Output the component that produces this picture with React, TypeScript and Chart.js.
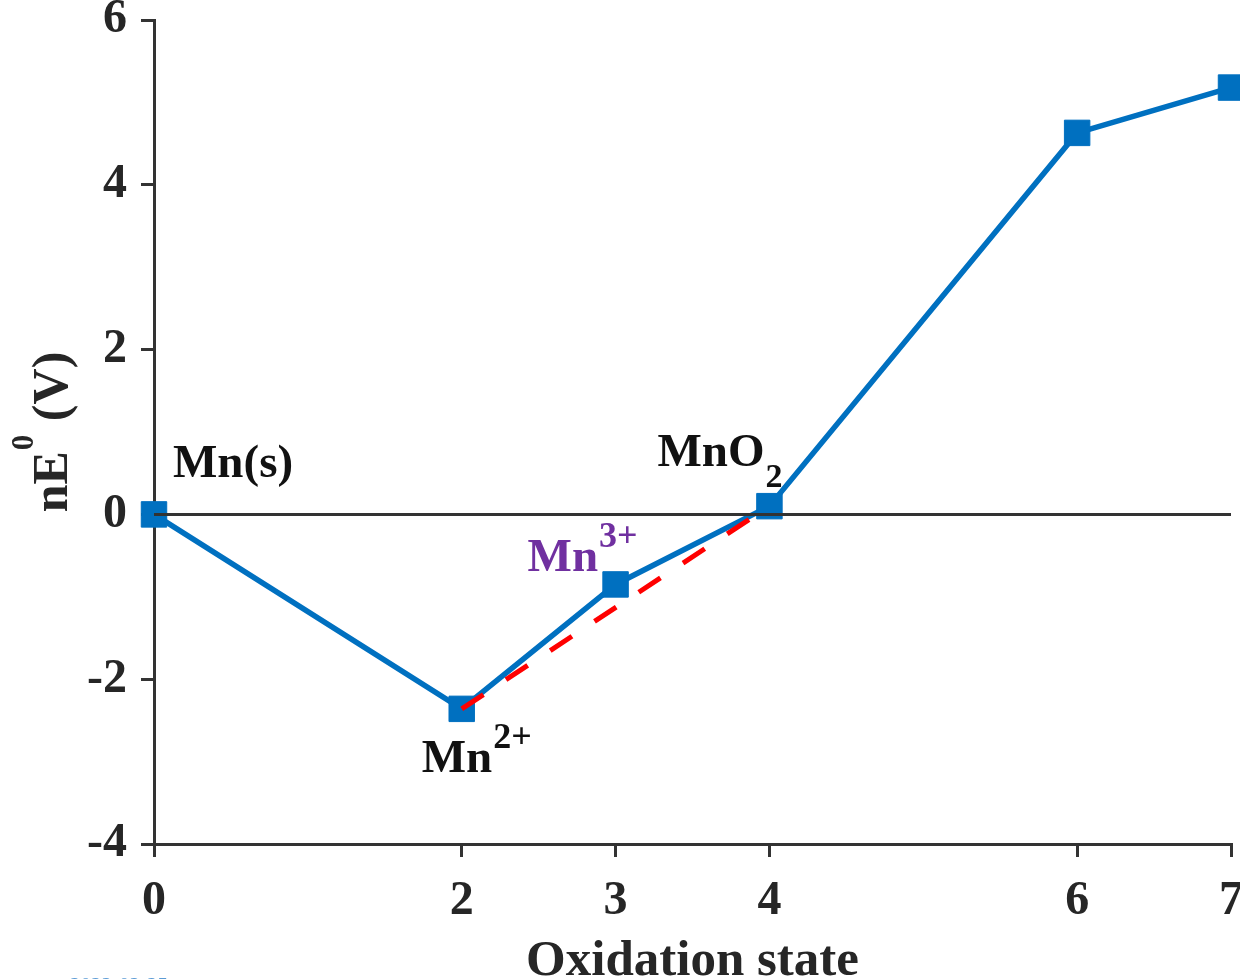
import React, { useEffect, useRef } from 'react';
import { Chart, registerables } from 'chart.js';

Chart.register(...registerables);

// Frost diagram for manganese (acid solution)
const oxidationStates = [0, 2, 3, 4, 6, 7];
const nE0Values = [0, -2.36, -0.85, 0.1, 4.63, 5.18];

// Mn2+ -> MnO2 reference line (comproportionation)
const refLineX = [2, 4];
const refLineY = [-2.36, 0.1];

const xTickValues = [0, 2, 3, 4, 6, 7];
const yTickValues = [-4, -2, 0, 2, 4, 6];

const xAxisTitle = 'Oxidation state';
const yAxisTitleMain = 'nE';
const yAxisTitleSup = '0';
const yAxisTitleTail = ' (V)';

const SERIF = '"Liberation Serif", "Times New Roman", serif';
const AXIS = '#333333';
const TEXT = '#262626';
const BLUE = '#0070c0';
const RED = '#ff0000';
const PURPLE = '#7030a0';

type Part = { text: string; size: number; dy: number };

function drawParts(ctx: CanvasRenderingContext2D, x: number, y: number, parts: Part[], color: string) {
  let cx = x;
  ctx.fillStyle = color;
  ctx.textAlign = 'left';
  ctx.textBaseline = 'alphabetic';
  for (const p of parts) {
    ctx.font = `bold ${p.size}px ${SERIF}`;
    ctx.fillText(p.text, cx, y + p.dy);
    cx += ctx.measureText(p.text).width + 1;
  }
}

const overlayPlugin = {
  id: 'frostOverlay',
  afterDatasetsDraw(chart: any) {
    const { ctx, chartArea, scales } = chart;
    const y0 = scales.y.getPixelForValue(0);
    ctx.save();
    ctx.strokeStyle = AXIS;
    ctx.lineWidth = 3;
    ctx.beginPath();
    ctx.moveTo(chartArea.left, y0);
    ctx.lineTo(chartArea.right, y0);
    ctx.stroke();
    ctx.restore();
  },
  afterDraw(chart: any) {
    const { ctx, chartArea, scales } = chart;
    const px = (i: number) => scales.x.getPixelForValue(oxidationStates[i]);
    const py = (i: number) => scales.y.getPixelForValue(nE0Values[i]);
    ctx.save();

    // species labels next to their points
    drawParts(ctx, px(0) + 19, py(0) - 37, [{ text: 'Mn(s)', size: 47, dy: 0 }], '#111');
    drawParts(ctx, px(1) - 40, py(1) + 63, [
      { text: 'Mn', size: 47, dy: 0 },
      { text: '2+', size: 36, dy: -24 },
    ], '#111');
    drawParts(ctx, px(2) - 88, py(2) - 13, [
      { text: 'Mn', size: 47, dy: 0 },
      { text: '3+', size: 36, dy: -24 },
    ], PURPLE);
    drawParts(ctx, px(3) - 112, py(3) - 40, [
      { text: 'MnO', size: 47, dy: 0 },
      { text: '2', size: 34, dy: 21 },
    ], '#111');

    // x axis title
    ctx.font = `bold 51px ${SERIF}`;
    ctx.fillStyle = TEXT;
    ctx.textAlign = 'center';
    ctx.textBaseline = 'alphabetic';
    ctx.fillText(xAxisTitle, (chartArea.left + chartArea.right) / 2, 975);

    // y axis title, rotated, with superscript
    ctx.font = `bold 50px ${SERIF}`;
    const wMain = ctx.measureText(yAxisTitleMain).width;
    const wTail = ctx.measureText(yAxisTitleTail).width;
    ctx.font = `bold 31px ${SERIF}`;
    const wSup = ctx.measureText(yAxisTitleSup).width;
    const total = wMain + wSup + wTail + 2;
    const cy = (chartArea.top + chartArea.bottom) / 2;
    ctx.translate(67, cy + total / 2);
    ctx.rotate(-Math.PI / 2);
    drawParts(ctx, 0, 0, [
      { text: yAxisTitleMain, size: 50, dy: 0 },
      { text: yAxisTitleSup, size: 31, dy: -34 },
      { text: yAxisTitleTail, size: 50, dy: 0 },
    ], TEXT);
    ctx.setTransform(1, 0, 0, 1, 0, 0);

    // date stamp at the lower edge
    ctx.font = `21px ${SERIF}`;
    ctx.fillStyle = '#5b9bd5';
    ctx.textAlign = 'left';
    ctx.fillText('2022-02-25', 70, 992);
    ctx.restore();
  },
};

export default function App() {
  const canvasRef = useRef<HTMLCanvasElement | null>(null);

  useEffect(() => {
    if (!canvasRef.current) return;
    const tickFont = { family: SERIF, size: 48, weight: 'bold' as const };

    const chart = new Chart(canvasRef.current, {
      type: 'line',
      data: {
        datasets: [
          {
            data: refLineX.map((x, i) => ({ x, y: refLineY[i] })),
            borderColor: RED,
            borderWidth: 5,
            borderDash: [26, 27],
            pointRadius: 0,
            order: 0,
            clip: false as any,
          },
          {
            data: oxidationStates.map((x, i) => ({ x, y: nE0Values[i] })),
            borderColor: BLUE,
            backgroundColor: BLUE,
            borderWidth: 5.5,
            pointStyle: 'rect',
            pointRadius: 18,
            pointBorderWidth: 1,
            pointBorderColor: BLUE,
            pointBackgroundColor: BLUE,
            order: 1,
            clip: false as any,
          },
        ],
      },
      options: {
        animation: false,
        responsive: true,
        maintainAspectRatio: false,
        layout: { padding: { top: 20, right: 0, left: 0, bottom: 0 } },
        plugins: { legend: { display: false }, tooltip: { enabled: false } },
        scales: {
          x: {
            type: 'linear',
            min: 0,
            max: 7,
            afterBuildTicks: (s: any) => {
              s.ticks = xTickValues.map((v) => ({ value: v }));
            },
            afterFit: (s: any) => {
              s.height = 135;
              s.paddingLeft = 0;
              s.paddingRight = 0;
            },
            border: { display: true, color: AXIS, width: 3 },
            grid: {
              display: true,
              drawOnChartArea: false,
              drawTicks: true,
              tickLength: 13,
              tickColor: AXIS,
              tickWidth: 3,
              lineWidth: 3,
            },
            ticks: {
              font: tickFont,
              color: TEXT,
              padding: 16,
              maxRotation: 0,
              autoSkip: false,
              callback: (v: any) => String(v),
            },
          },
          y: {
            type: 'linear',
            min: -4,
            max: 6,
            afterBuildTicks: (s: any) => {
              s.ticks = yTickValues.map((v) => ({ value: v }));
            },
            afterFit: (s: any) => {
              s.width = 154;
              s.paddingTop = 0;
              s.paddingBottom = 0;
            },
            border: { display: true, color: AXIS, width: 3 },
            grid: {
              display: true,
              drawOnChartArea: false,
              drawTicks: true,
              tickLength: 13,
              tickColor: AXIS,
              tickWidth: 3,
              lineWidth: 3,
            },
            ticks: {
              font: tickFont,
              color: TEXT,
              padding: 14,
              autoSkip: false,
              callback: (v: any) => String(v),
            },
          },
        },
      },
      plugins: [overlayPlugin],
    });

    return () => chart.destroy();
  }, []);

  // The canvas runs slightly past the visible frame so the last tick label and marker are cut at the edge.
  return (
    <div style={{ position: 'fixed', left: 0, top: 0, width: 1240, height: 979, overflow: 'hidden', background: '#ffffff' }}>
      <div style={{ position: 'relative', width: 1250, height: 979 }}>
        <canvas ref={canvasRef} />
      </div>
    </div>
  );
}
